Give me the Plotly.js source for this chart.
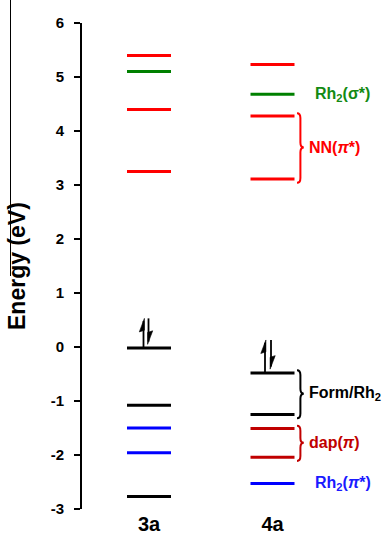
<!DOCTYPE html>
<html>
<head>
<meta charset="utf-8">
<script src="https://cdn.plot.ly/plotly-3.0.1.min.js"></script>
<style>html,body{margin:0;padding:0;background:#fff;}#chart{width:390px;height:536px;}</style>
</head>
<body>
<div id="chart"></div>
<script>
// ---- data ----
const columns = ['3a', '4a'];
const levels3a = [5.40, 5.10, 4.40, 3.25, -0.02, -1.08, -1.50, -1.96, -2.77];
const colors3a = ['#ff0000', '#008000', '#ff0000', '#ff0000', '#000000', '#000000', '#0000ff', '#0000ff', '#000000'];
const levels4a = [5.23, 4.68, 4.28, 3.11, -0.48, -1.25, -1.51, -2.04, -2.53];
const colors4a = ['#ff0000', '#008000', '#ff0000', '#ff0000', '#000000', '#000000', '#c00000', '#c00000', '#0000ff'];
const groupLabels = ['Rh<sub>2</sub>(σ*)', 'NN(<i>π</i>*)', 'Form/Rh<sub>2</sub>', 'dap(<i>π</i>)', 'Rh<sub>2</sub>(<i>π</i>*)'];
const groupLevels = [[1], [2, 3], [4, 5], [6, 7], [8]];
const groupColors = ['#138a13', '#ff0000', '#000000', '#c00000', '#1a1aff'];
const yTickVals = [-3, -2, -1, 0, 1, 2, 3, 4, 5, 6];
const yTickText = ['-3', '-2', '-1', '0', '1', '2', '3', '4', '5', '6'];
const homoIndex = 4;

// ---- layout geometry ----
const W = 390, H = 536, ML = 82, MR = 0, MT = 23, MB = 27;
const PW = W - ML - MR, PH = H - MT - MB;
const FONT = 'Liberation Sans, Arial, sans-serif';
const colCenters = [149, 272.5];
const halfW = 22;
const pyX = px => (px - ML) / PW;
const pyY = py => (H - MB - py) / PH;

const allLevels = [levels3a, levels4a];
const allColors = [colors3a, colors4a];

const traces = [];
allLevels.forEach((lv, c) => {
  lv.forEach((e, i) => {
    traces.push({
      type: 'scatter', mode: 'lines',
      x: [colCenters[c] - halfW, colCenters[c] + halfW],
      y: [e, e],
      line: {color: allColors[c][i], width: 3},
      hoverinfo: 'skip', showlegend: false
    });
  });
});

const shapes = [];
const annotations = [];
const braceX = 297, braceA = 3.4, braceR = 0.09;
groupLevels.forEach((g, k) => {
  const ys = g.map(i => levels4a[i]);
  const top = Math.max(...ys), bot = Math.min(...ys);
  const mid = (top + bot) / 2;
  let labelX = 313;
  if (g.length > 1) {
    const t = top + 0.05, b = bot - 0.07;
    const x0 = braceX, x1 = braceX + braceA, x2 = braceX + 2 * braceA;
    const p = `M ${x0},${t} Q ${x1},${t} ${x1},${t - braceR} L ${x1},${mid + braceR} Q ${x1},${mid} ${x2},${mid} ` +
              `Q ${x1},${mid} ${x1},${mid - braceR} L ${x1},${b + braceR} Q ${x1},${b} ${x0},${b}`;
    shapes.push({type: 'path', xref: 'x', yref: 'y', path: p, line: {color: groupColors[k], width: 2}});
    labelX = x2 + 3;
  }
  annotations.push({
    xref: 'x', yref: 'y', x: labelX, y: mid, xanchor: 'left', yanchor: 'middle',
    text: '<b>' + groupLabels[k] + '</b>', showarrow: false,
    font: {family: FONT, size: 16, color: groupColors[k], weight: 'bold'}
  });
});

// electron pair arrows above HOMO
const arrowDx = [[-5.5, -0.5], [-7.5, -1.5]];
const arrowH = [0.55, 0.61];
allLevels.forEach((lv, c) => {
  const base = lv[homoIndex];
  const top = base + arrowH[c];
  const xu = colCenters[c] + arrowDx[c][0];
  const xd = colCenters[c] + arrowDx[c][1];
  const bh = 0.25;
  shapes.push({type: 'line', xref: 'x', yref: 'y', x0: xu, x1: xu, y0: base, y1: top - 0.05, line: {color: '#000', width: 1.8}});
  shapes.push({type: 'path', xref: 'x', yref: 'y', path: `M ${xu + 0.9},${top} L ${xu - 4.2},${top - bh} L ${xu + 0.9},${top - bh + 0.03} Z`, fillcolor: '#000', line: {color: '#000', width: 0.6}});
  const dbot = base + 0.07;
  shapes.push({type: 'line', xref: 'x', yref: 'y', x0: xd, x1: xd, y0: top, y1: dbot + 0.05, line: {color: '#000', width: 1.8}});
  shapes.push({type: 'path', xref: 'x', yref: 'y', path: `M ${xd - 0.9},${dbot} L ${xd + 4.2},${dbot + bh} L ${xd - 0.9},${dbot + bh - 0.03} Z`, fillcolor: '#000', line: {color: '#000', width: 0.6}});
});

// stray thin border line at far left of the reference image
shapes.push({type: 'line', xref: 'paper', yref: 'paper', x0: pyX(10.5), x1: pyX(10.5), y0: pyY(0), y1: pyY(276), line: {color: '#000', width: 1}});

// y-axis title
annotations.push({
  xref: 'paper', yref: 'paper', x: pyX(17), y: pyY(266), xanchor: 'center', yanchor: 'middle',
  text: '<b>Energy (eV)</b>', textangle: -90, showarrow: false,
  font: {family: FONT, size: 23, color: '#000', weight: 'bold'}
});

const layout = {
  width: W, height: H,
  margin: {l: ML, r: MR, t: MT, b: MB, pad: 0},
  paper_bgcolor: '#fff', plot_bgcolor: '#fff',
  showlegend: false,
  xaxis: {
    range: [ML, W - MR], showgrid: false, zeroline: false, showline: false,
    tickmode: 'array', tickvals: colCenters, ticktext: columns.map(s => '<b>' + s + '</b>'),
    ticks: '', tickfont: {family: FONT, size: 20, color: '#000', weight: 'bold'},
    ticklabelstandoff: 1, fixedrange: true
  },
  yaxis: {
    range: [-3, 6], showgrid: false, zeroline: false,
    showline: true, linecolor: '#000', linewidth: 2,
    ticks: 'outside', ticklen: 6, tickwidth: 2, tickcolor: '#000',
    tickmode: 'array', tickvals: yTickVals, ticktext: yTickText.map(s => '<b>' + s + '</b>'),
    tickfont: {family: FONT, size: 15, color: '#000', weight: 'bold'},
    ticklabelstandoff: 7, fixedrange: true
  },
  shapes: shapes,
  annotations: annotations
};

Plotly.newPlot('chart', traces, layout, {displayModeBar: false, staticPlot: true});
</script>
</body>
</html>
